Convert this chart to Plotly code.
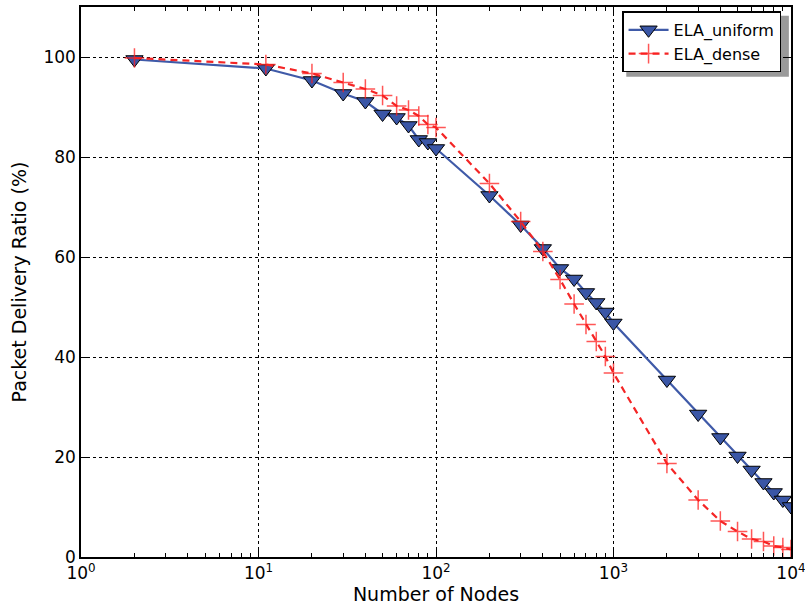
import plotly.graph_objects as go

nodes_uniform = [2, 11, 20, 30, 40, 50, 60, 70, 80, 90, 100, 200, 300, 400, 500, 600, 700, 800, 900, 1000,
                 2000, 3000, 4000, 5000, 6000, 7000, 8000, 9000, 10000]
pdr_uniform = [99.5, 97.7, 95.3, 92.7, 91.1, 88.6, 87.9, 86.3, 83.5, 82.9, 81.7, 72.3, 66.4, 61.7, 57.7, 55.6,
               52.9, 50.9, 49.0, 46.8, 35.4, 28.6, 23.9, 20.2, 17.4, 14.9, 12.9, 11.4, 10.1]

nodes_dense = [2, 11, 20, 30, 40, 50, 60, 70, 80, 90, 100, 200, 300, 400, 500, 600, 700, 800, 900, 1000,
               2000, 3000, 4000, 5000, 6000, 7000, 8000, 9000, 10000]
pdr_dense = [99.8, 98.5, 96.7, 94.9, 93.6, 92.3, 90.2, 89.4, 88.2, 86.5, 85.9, 74.7, 67.1, 61.1, 55.5, 50.6,
             46.5, 43.1, 40.1, 36.8, 18.7, 11.4, 7.2, 5.1, 3.6, 3.1, 2.2, 1.9, 1.5]

x_ticks = [1, 10, 100, 1000, 10000]
x_ticktext = ["10<sup>0</sup>", "10<sup>1</sup>", "10<sup>2</sup>", "10<sup>3</sup>", "10<sup>4</sup>"]
x_minor = [m * d for d in [1, 10, 100, 1000] for m in range(2, 10)]
y_ticks = [0, 20, 40, 60, 80, 100]

font = "DejaVu Sans"

fig = go.Figure()
fig.add_trace(go.Scatter(
    x=nodes_uniform, y=pdr_uniform, name="ELA_uniform", mode="lines+markers",
    line=dict(color="#3f5aa8", width=2.2),
    marker=dict(symbol="triangle-down", size=15, color="#3a56a6",
                line=dict(color="black", width=1)),
))
fig.add_trace(go.Scatter(
    x=nodes_dense, y=pdr_dense, name="ELA_dense", mode="lines+markers",
    line=dict(color="#f42525", width=2.2, dash="7px,5px"),
    marker=dict(symbol="cross-thin", size=14,
                line=dict(color="rgba(255,30,30,0.75)", width=1.5)),
))

# legend shadow
fig.add_shape(type="rect", xref="paper", yref="paper",
              x0=0.768, x1=0.997, y0=0.873, y1=0.984,
              fillcolor="#9a9a9a", line=dict(width=0), layer="below")

axis_common = dict(
    showline=True, linecolor="black", linewidth=1.5, mirror="ticks",
    ticks="inside", ticklen=8, tickwidth=1, tickcolor="black",
    showgrid=True, gridcolor="black", griddash="dot", gridwidth=1,
    zeroline=False, automargin=False,
    tickfont=dict(family=font, size=17, color="black"),
)

fig.update_layout(
    width=805, height=612,
    margin=dict(l=81, r=14, t=7, b=55, autoexpand=False),
    paper_bgcolor="white", plot_bgcolor="white",
    font=dict(family=font, color="black"),
    xaxis=dict(type="log", range=[-0.0002, 4.0002], tickvals=x_ticks, ticktext=x_ticktext,
               ticklabeloverflow="allow",
               title=dict(text="Number of Nodes", font=dict(family=font, size=19), standoff=4),
               minor=dict(tickvals=x_minor, ticks="inside", ticklen=4, tickcolor="black", showgrid=False),
               **axis_common),
    yaxis=dict(range=[0, 110], tickvals=y_ticks,
               title=dict(text="Packet Delivery Ratio (%)", font=dict(family=font, size=19), standoff=12),
               **axis_common),
    legend=dict(x=0.986, y=0.992, xanchor="right", yanchor="top",
                bgcolor="white", bordercolor="black", borderwidth=1.5,
                font=dict(family=font, size=16, color="black"),
                tracegroupgap=2, itemwidth=40),
    showlegend=True,
)

fig.write_html("out.html", config={"displayModeBar": False},
               post_script="document.body.style.margin='0';document.body.style.overflow='hidden';")
